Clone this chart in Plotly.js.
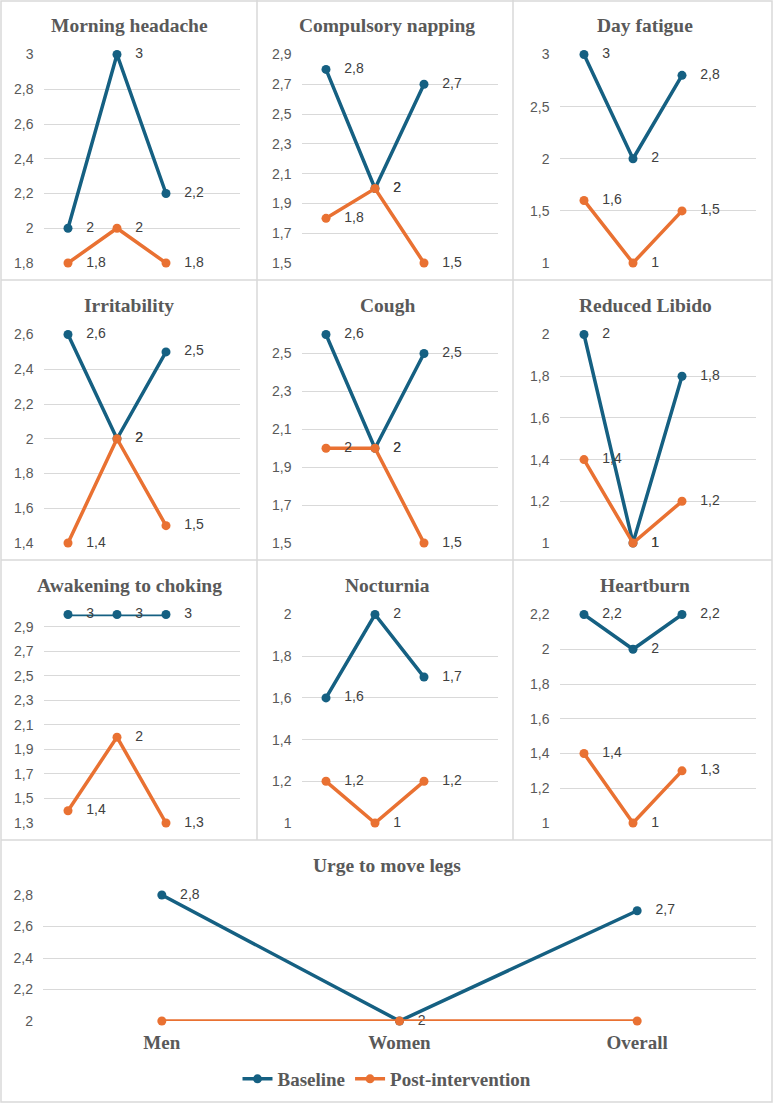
<!DOCTYPE html>
<html>
<head>
<meta charset="utf-8">
<script src="https://cdn.plot.ly/plotly-3.0.1.min.js"></script>
<style>
html,body{margin:0;padding:0;background:#fff;}
#chart{width:774px;height:1105px;}
</style>
</head>
<body>
<div id="chart"></div>
<script>
// ---------- DATA ----------
const categories = ['Men', 'Women', 'Overall'];
const seriesNames = ['Baseline', 'Post-intervention'];

const panelTitles = ['Morning headache', 'Compulsory napping', 'Day fatigue',
  'Irritability', 'Cough', 'Reduced Libido',
  'Awakening to choking', 'Nocturnia', 'Heartburn',
  'Urge to move legs'];

const morningHeadacheBaseline = [2, 3, 2.2];
const morningHeadachePost = [1.8, 2, 1.8];
const compulsoryNappingBaseline = [2.8, 2, 2.7];
const compulsoryNappingPost = [1.8, 2, 1.5];
const dayFatigueBaseline = [3, 2, 2.8];
const dayFatiguePost = [1.6, 1, 1.5];
const irritabilityBaseline = [2.6, 2, 2.5];
const irritabilityPost = [1.4, 2, 1.5];
const coughBaseline = [2.6, 2, 2.5];
const coughPost = [2, 2, 1.5];
const reducedLibidoBaseline = [2, 1, 1.8];
const reducedLibidoPost = [1.4, 1, 1.2];
const awakeningBaseline = [3, 3, 3];
const awakeningPost = [1.4, 2, 1.3];
const nocturniaBaseline = [1.6, 2, 1.7];
const nocturniaPost = [1.2, 1, 1.2];
const heartburnBaseline = [2.2, 2, 2.2];
const heartburnPost = [1.4, 1, 1.3];
const urgeBaseline = [2.8, 2, 2.7];
const urgePost = [2, 2, 2];

// axis ranges and tick steps (min, max, first tick, step)
const axisMin = [1.8, 1.5, 1, 1.4, 1.5, 1, 1.3, 1, 1, 2];
const axisMax = [3, 2.9, 3, 2.6, 2.6, 2, 3.0, 2, 2.2, 2.8];
const axisTick0 = [1.8, 1.5, 1, 1.4, 1.5, 1, 1.3, 1, 1, 2];
const axisStep = [0.2, 0.2, 0.5, 0.2, 0.2, 0.2, 0.2, 0.2, 0.2, 0.2];

const baselineSets = [morningHeadacheBaseline, compulsoryNappingBaseline, dayFatigueBaseline,
  irritabilityBaseline, coughBaseline, reducedLibidoBaseline,
  awakeningBaseline, nocturniaBaseline, heartburnBaseline, urgeBaseline];
const postSets = [morningHeadachePost, compulsoryNappingPost, dayFatiguePost,
  irritabilityPost, coughPost, reducedLibidoPost,
  awakeningPost, nocturniaPost, heartburnPost, urgePost];

// ---------- STYLE ----------
const W = 774, H = 1105;
const blue = '#156082', orange = '#E97132';
const grey = '#595959', grid = '#D9D9D9', border = '#D9D9D9';
const serif = 'Liberation Serif, Times New Roman, serif';
const sans = 'Liberation Sans, Arial, sans-serif';

const fmt = v => '\u00a0\u00a0\u00a0' + String(v).replace('.', ',');

const colX = [[43.5, 239.5], [301.5, 497.5], [559.5, 755.5]];
const colCenter = [129, 387, 645];
const px = x => x / W;
const py = y => 1 - y / H;

const traces = [];
const layout = {
  width: W, height: H,
  margin: {l: 0, r: 0, t: 0, b: 0},
  paper_bgcolor: '#fff', plot_bgcolor: 'rgba(0,0,0,0)',
  separators: ', ',
  showlegend: true,
  legend: {
    orientation: 'h', x: 0.5, xanchor: 'center', y: py(1079), yanchor: 'middle',
    font: {family: serif, size: 19, color: grey, weight: 'bold'},
    bgcolor: 'rgba(0,0,0,0)', itemwidth: 30, tracegroupgap: 0
  },
  annotations: [], shapes: []
};

for (let i = 0; i < 10; i++) {
  const n = i + 1;
  const xa = n === 1 ? 'x' : 'x' + n;
  const ya = n === 1 ? 'y' : 'y' + n;
  let xd, yd, titleX, titleY;
  if (i < 9) {
    const r = Math.floor(i / 3), c = i % 3;
    xd = [px(colX[c][0]), px(colX[c][1])];
    yd = [py(280 * r + 263), py(280 * r + 54.5)];
    titleX = colCenter[c];
    titleY = 280 * r + 25;
  } else {
    xd = [px(43), px(756)];
    yd = [py(1021), py(895)];
    titleX = 387;
    titleY = 865;
  }
  const isBottom = i === 9;
  layout['xaxis' + (n === 1 ? '' : n)] = {
    domain: xd, anchor: ya, type: 'category',
    categoryorder: 'array', categoryarray: categories,
    range: isBottom ? [-0.5, 2.5] : [-0.5, 3.5],
    showgrid: false, zeroline: false, showline: false, ticks: '',
    showticklabels: isBottom,
    tickfont: {family: serif, size: 19, color: grey, weight: 'bold'},
    ticklabelstandoff: 8,
    fixedrange: true
  };
  layout['yaxis' + (n === 1 ? '' : n)] = {
    domain: yd, anchor: xa,
    range: [axisMin[i], axisMax[i]],
    tick0: axisTick0[i], dtick: axisStep[i], tickmode: 'linear',
    showgrid: true, gridcolor: grid, gridwidth: 1,
    zeroline: false, showline: false, ticks: '',
    tickfont: {family: sans, size: 14, color: grey},
    ticklabelstandoff: 9,
    fixedrange: true
  };
  layout.annotations.push({
    xref: 'paper', yref: 'paper', x: px(titleX), y: py(titleY),
    xanchor: 'center', yanchor: 'middle', showarrow: false,
    text: panelTitles[i],
    font: {family: serif, size: 19.5, color: grey, weight: 'bold'}
  });

  traces.push({
    type: 'scatter', x: categories, y: baselineSets[i], xaxis: xa, yaxis: ya,
    name: seriesNames[0], legendgroup: 'b', showlegend: i === 0,
    mode: 'lines+markers+text',
    line: {color: blue, width: 3.5},
    marker: {color: blue, size: 9},
    text: baselineSets[i].map(fmt), textposition: 'middle right',
    textfont: {family: sans, size: 14, color: '#404040'},
    cliponaxis: false, hoverinfo: 'skip'
  });
  traces.push({
    type: 'scatter', x: categories, y: postSets[i], xaxis: xa, yaxis: ya,
    name: seriesNames[1], legendgroup: 'p', showlegend: i === 0,
    mode: isBottom ? 'lines+markers' : 'lines+markers+text',
    line: {color: orange, width: 3.5},
    marker: {color: orange, size: 9},
    text: postSets[i].map(fmt), textposition: 'middle right',
    textfont: {family: sans, size: 14, color: '#404040'},
    cliponaxis: false, hoverinfo: 'skip'
  });
}

// panel borders
const lineStyle = {color: border, width: 1.5};
const vLines = [257, 513];
const hLines = [280, 560, 840];
vLines.forEach(x => layout.shapes.push({type: 'line', xref: 'paper', yref: 'paper',
  x0: px(x), x1: px(x), y0: py(0), y1: py(840), line: lineStyle}));
hLines.forEach(y => layout.shapes.push({type: 'line', xref: 'paper', yref: 'paper',
  x0: px(1), x1: px(772), y0: py(y), y1: py(y), line: lineStyle}));
layout.shapes.push({type: 'rect', xref: 'paper', yref: 'paper',
  x0: px(1), x1: px(772), y0: py(1), y1: py(1102), line: lineStyle});

Plotly.newPlot('chart', traces, layout, {displayModeBar: false, staticPlot: true});
</script>
</body>
</html>
